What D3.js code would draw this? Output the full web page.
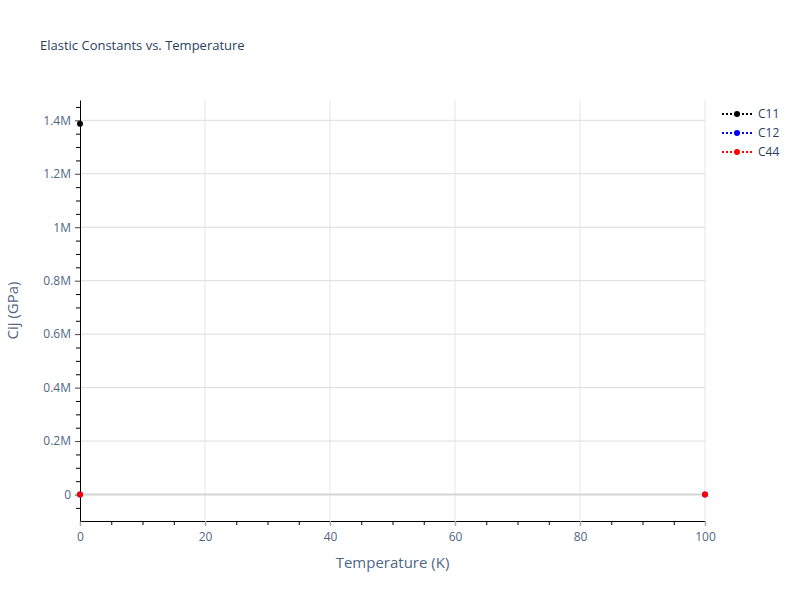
<!DOCTYPE html>
<html>
<head>
<meta charset="utf-8">
<script src="https://cdn.jsdelivr.net/npm/d3@7"></script>
<style>
  body { margin: 0; background: #fff; }
  text { font-family: "Open Sans", Verdana, Arial, sans-serif; }
</style>
</head>
<body>
<svg width="800" height="600"></svg>
<script>
// data (GPa); null = no point
var temps = [0, 100];
var c11 = [1387000, null];
var c12 = [0, 0];
var c44 = [0, 0];
var seriesNames = ["C11", "C12", "C44"];
var seriesColors = ["black", "blue", "red"];
var xTicks = [0, 20, 40, 60, 80, 100];
var yTicks = [0, 200000, 400000, 600000, 800000, 1000000, 1200000, 1400000];
var yTickLabels = ["0", "0.2M", "0.4M", "0.6M", "0.8M", "1M", "1.2M", "1.4M"];

var series = [c11, c12, c44].map(function (vals, i) {
  return {
    name: seriesNames[i],
    color: seriesColors[i],
    points: temps.map(function (t, j) { return { t: t, v: vals[j] }; })
      .filter(function (d) { return d.v !== null; })
  };
});

var svg = d3.select("svg"),
  margin = { top: 100, right: 95, bottom: 79, left: 80 },
  width = +svg.attr("width") - margin.left - margin.right,
  height = +svg.attr("height") - margin.top - margin.bottom,
  g = svg.append("g")
    .attr("transform", "translate(" + margin.left + "," + margin.top + ")");

var tickColor = "#506784";

var x = d3.scaleLinear().domain([0, 100]).range([0, width]);
var y = d3.scaleLinear().domain([-99000, 1476000]).range([height, 0]);

// grid
g.append("g").selectAll("line")
  .data(xTicks.slice(1))
  .enter().append("line")
  .attr("x1", function (d) { return x(d); })
  .attr("x2", function (d) { return x(d); })
  .attr("y1", 0).attr("y2", height)
  .attr("stroke", "#e5e5e5");

g.append("g").selectAll("line")
  .data(yTicks)
  .enter().append("line")
  .attr("x1", 0).attr("x2", width)
  .attr("y1", function (d) { return y(d); })
  .attr("y2", function (d) { return y(d); })
  .attr("stroke", function (d) { return d === 0 ? "#d4d4d4" : "#dcdcdc"; })
  .attr("stroke-width", function (d) { return d === 0 ? 2 : 1; });

// minor ticks
var xMinor = d3.range(0, 101, 5).filter(function (d) { return d % 20 !== 0; });
var yMinor = d3.range(-50000, 1476000, 50000).filter(function (d) { return d % 200000 !== 0; });

g.append("g").attr("transform", "translate(0," + height + ")")
  .call(d3.axisBottom(x).tickValues(xMinor).tickSize(4).tickFormat(""))
  .call(function (a) { a.select(".domain").remove(); });

g.append("g")
  .call(d3.axisLeft(y).tickValues(yMinor).tickSize(4).tickFormat(""))
  .call(function (a) { a.select(".domain").remove(); });

// major axes
var xAxis = g.append("g").attr("transform", "translate(0," + height + ")")
  .call(d3.axisBottom(x).tickValues(xTicks).tickSize(5).tickSizeOuter(0).tickPadding(6));
xAxis.select(".domain").attr("stroke", "black");
xAxis.selectAll(".tick line").attr("stroke", "#aaa").attr("stroke-width", 1.5);
xAxis.selectAll(".tick text").attr("fill", tickColor).attr("font-size", 12)
  .style("font-family", '"Open Sans", Verdana, Arial, sans-serif');

var yAxis = g.append("g")
  .call(d3.axisLeft(y).tickValues(yTicks).tickSize(5).tickSizeOuter(0).tickPadding(4)
    .tickFormat(function (d, i) { return yTickLabels[i]; }));
yAxis.select(".domain").attr("stroke", "black");
yAxis.selectAll(".tick line").attr("stroke", "#444");
yAxis.selectAll(".tick text").attr("fill", tickColor).attr("font-size", 12)
  .style("font-family", '"Open Sans", Verdana, Arial, sans-serif');

// markers
var clipId = "plotclip";
svg.append("defs").append("clipPath").attr("id", clipId)
  .append("rect").attr("x", -6).attr("y", 0).attr("width", width + 12).attr("height", height);

var marks = g.append("g").attr("clip-path", "url(#" + clipId + ")");
series.forEach(function (s) {
  marks.selectAll(null)
    .data(s.points)
    .enter().append("circle")
    .attr("cx", function (d) { return x(d.t); })
    .attr("cy", function (d) { return y(d.v); })
    .attr("r", 3)
    .attr("fill", s.color);
});

// title
svg.append("text")
  .attr("x", 40).attr("y", 50)
  .attr("font-size", 13)
  .attr("fill", "#2a3f5f")
  .text("Elastic Constants vs. Temperature");

// axis titles
svg.append("text")
  .attr("x", margin.left + width / 2).attr("y", 568)
  .attr("text-anchor", "middle")
  .attr("font-size", 15)
  .attr("fill", tickColor)
  .text("Temperature (K)");

svg.append("text")
  .attr("transform", "translate(18," + (margin.top + height / 2) + ") rotate(-90)")
  .attr("text-anchor", "middle")
  .attr("font-size", 15)
  .attr("fill", tickColor)
  .text("Cij (GPa)");

// legend
var legend = svg.append("g").attr("transform", "translate(722,114)");
series.forEach(function (s, i) {
  var row = legend.append("g").attr("transform", "translate(0," + i * 19 + ")");
  row.append("line")
    .attr("x1", 0).attr("x2", 30)
    .attr("stroke", s.color).attr("stroke-width", 2)
    .attr("stroke-dasharray", "2,2");
  row.append("circle").attr("cx", 15).attr("r", 3).attr("fill", s.color);
  row.append("text")
    .attr("x", 36).attr("dy", "0.35em")
    .attr("font-size", 12)
    .attr("fill", "#2a3f5f")
    .text(s.name);
});
</script>
</body>
</html>
